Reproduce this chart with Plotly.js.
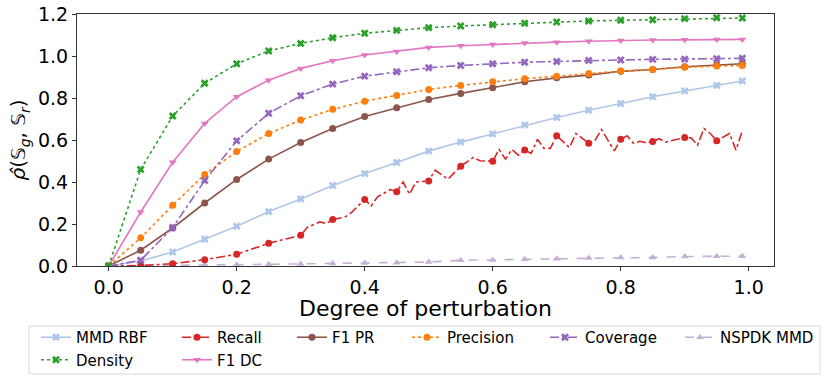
<!DOCTYPE html>
<html>
<head>
<meta charset="utf-8">
<script src="https://cdn.plot.ly/plotly-3.0.1.min.js"></script>
<style>
  html, body { margin: 0; padding: 0; background: #fff; }
  #chart { width: 830px; height: 381px; }
</style>
</head>
<body>
<div id="chart"></div>
<script>
// x positions of the markers (every 0.05) plus the last sample
const xMarks = [0, 0.05, 0.1, 0.15, 0.2, 0.25, 0.3, 0.35, 0.4, 0.45, 0.5,
                0.55, 0.6, 0.65, 0.7, 0.75, 0.8, 0.85, 0.9, 0.95, 0.99];

const mmdRbf   = [0, 0.024, 0.067, 0.127, 0.189, 0.259, 0.319, 0.383, 0.440, 0.493, 0.547,
                  0.590, 0.629, 0.671, 0.707, 0.742, 0.774, 0.806, 0.833, 0.860, 0.881];
const density  = [0, 0.460, 0.714, 0.870, 0.963, 1.024, 1.060, 1.087, 1.108, 1.122, 1.135,
                  1.143, 1.149, 1.156, 1.162, 1.167, 1.170, 1.173, 1.178, 1.182, 1.181];
const f1dc     = [0, 0.257, 0.494, 0.679, 0.806, 0.885, 0.941, 0.977, 1.005, 1.022, 1.041,
                  1.049, 1.055, 1.062, 1.066, 1.070, 1.074, 1.076, 1.077, 1.079, 1.079];
const coverage = [0, 0.027, 0.183, 0.407, 0.596, 0.727, 0.811, 0.866, 0.904, 0.925, 0.944,
                  0.955, 0.963, 0.970, 0.974, 0.979, 0.981, 0.984, 0.985, 0.987, 0.989];
const precision= [0, 0.134, 0.289, 0.436, 0.545, 0.631, 0.695, 0.746, 0.785, 0.812, 0.841,
                  0.860, 0.877, 0.892, 0.904, 0.917, 0.928, 0.936, 0.946, 0.952, 0.955];
const f1pr     = [0, 0.075, 0.181, 0.300, 0.412, 0.509, 0.588, 0.655, 0.712, 0.753, 0.793,
                  0.822, 0.849, 0.877, 0.896, 0.909, 0.927, 0.936, 0.949, 0.958, 0.963];
const nspdk    = [0, 0.001, 0.002, 0.004, 0.006, 0.008, 0.010, 0.012, 0.014, 0.016, 0.019,
                  0.027, 0.029, 0.032, 0.035, 0.038, 0.040, 0.041, 0.045, 0.046, 0.047];

// recall is noisy, so keep the vertices of its jagged line
const recallX = [0, 0.05, 0.1, 0.15, 0.2, 0.25, 0.28, 0.3, 0.31, 0.33, 0.34, 0.35, 0.37, 0.38,
                 0.4, 0.41, 0.42, 0.44, 0.45, 0.46, 0.47, 0.48, 0.5, 0.51, 0.53, 0.55, 0.57,
                 0.58, 0.6, 0.61, 0.62, 0.63, 0.64, 0.65, 0.66, 0.67, 0.68, 0.69, 0.7, 0.72,
                 0.73, 0.75, 0.76, 0.77, 0.79, 0.8, 0.81, 0.82, 0.83, 0.84, 0.85, 0.86, 0.87,
                 0.89, 0.9, 0.91, 0.92, 0.93, 0.94, 0.95, 0.97, 0.98, 0.99];
const recallY = [0, 0.002, 0.011, 0.030, 0.056, 0.108, 0.131, 0.146, 0.183, 0.210, 0.202, 0.221,
                 0.234, 0.257, 0.317, 0.286, 0.329, 0.364, 0.353, 0.400, 0.342, 0.400, 0.405,
                 0.456, 0.413, 0.475, 0.517, 0.501, 0.499, 0.555, 0.509, 0.555, 0.528, 0.552,
                 0.536, 0.603, 0.560, 0.560, 0.620, 0.564, 0.631, 0.584, 0.599, 0.650, 0.548,
                 0.603, 0.620, 0.584, 0.594, 0.587, 0.593, 0.606, 0.590, 0.604, 0.612, 0.610,
                 0.575, 0.655, 0.631, 0.596, 0.631, 0.552, 0.644];

const FONT = 'DejaVu Sans, sans-serif';
const W = 830, H = 381;
// plot area in pixels (matches the reference frame)
const PL = 77, PR = 774, PT = 14, PB = 266;
const LEG_TOP = 321;   // top of the legend block, px

function serie(name, x, y, color, dash, symbol, legend, rank, markColor) {
    return {
        x: x, y: y, name: name,
        type: 'scatter', mode: 'lines+markers',
        line: {color: color, width: 1.6, dash: dash},
        marker: {color: markColor || color, size: 7, symbol: symbol, line: {width: 0}},
        legend: legend, legendrank: rank,
        hoverinfo: 'x+y+name'
    };
}

// markers only every 0.05 on the recall line
const recallColors = recallX.map(v => Math.round(v * 100) % 5 === 0 ? '#d62728' : 'rgba(0,0,0,0)');

const data = [
    serie('NSPDK MMD', xMarks, nspdk, '#c5b0d5', 'dash', 'triangle-up', 'legend6', 1),
    serie('MMD RBF', xMarks, mmdRbf, '#aec7e8', 'solid', 'x', 'legend', 1),
    serie('Recall', recallX, recallY, '#d62728', 'dashdot', 'circle', 'legend2', 1, recallColors),
    serie('F1 PR', xMarks, f1pr, '#8c564b', 'solid', 'circle', 'legend3', 1),
    serie('Precision', xMarks, precision, '#ff7f0e', 'dot', 'circle', 'legend4', 1),
    serie('Coverage', xMarks, coverage, '#9467bd', 'dashdot', 'x', 'legend5', 1),
    serie('F1 DC', xMarks, f1dc, '#e377c2', 'solid', 'triangle-down', 'legend2', 2),
    serie('Density', xMarks, density, '#2ca02c', 'dot', 'x', 'legend', 2)
];

// one small legend per column, like the matplotlib ncol layout
function legendBox(px) {
    return {
        xref: 'paper', yref: 'container',
        x: (px - PL) / (PR - PL), y: (H - LEG_TOP) / H,
        xanchor: 'left', yanchor: 'top',
        orientation: 'v', bgcolor: 'rgba(0,0,0,0)', borderwidth: 0,
        font: {family: FONT, size: 15, color: '#000'}, tracegroupgap: 0
    };
}

const layout = {
    width: W, height: H,
    margin: {l: PL, r: W - PR, t: PT, b: H - PB},
    paper_bgcolor: '#fff', plot_bgcolor: '#fff',
    font: {family: FONT, color: '#000'},
    showlegend: true,
    legend: legendBox(36),
    legend2: legendBox(177),
    legend3: legendBox(292),
    legend4: legendBox(407),
    legend5: legendBox(545),
    legend6: legendBox(680),
    xaxis: {
        range: [-0.0495, 1.0395], automargin: false,
        tickvals: [0, 0.2, 0.4, 0.6, 0.8, 1.0], tickformat: '.1f',
        ticks: 'outside', ticklen: 4, tickwidth: 1, tickcolor: '#333',
        showline: true, linecolor: '#333', linewidth: 1, mirror: true,
        showgrid: false, zeroline: false,
        tickfont: {family: FONT, size: 19},
        title: {text: 'Degree of perturbation', font: {family: FONT, size: 22}, standoff: 1}
    },
    yaxis: {
        range: [0, 1.2], automargin: false,
        tickvals: [0, 0.2, 0.4, 0.6, 0.8, 1.0, 1.2], tickformat: '.1f',
        ticks: 'outside', ticklen: 4, tickwidth: 1, tickcolor: '#333',
        showline: true, linecolor: '#333', linewidth: 1, mirror: true,
        showgrid: false, zeroline: false,
        tickfont: {family: FONT, size: 19},
        title: {text: '<i>ρ̂</i>(𝕊<sub><i>g</i></sub>, 𝕊<sub><i>r</i></sub>)',
                font: {family: FONT, size: 20}, standoff: 6}
    },
    shapes: [{
        type: 'rect', xref: 'paper', yref: 'paper',
        x0: (29 - PL) / (PR - PL), x1: (820 - PL) / (PR - PL),
        y0: (PB - 326) / (PB - PT), y1: (PB - 374) / (PB - PT),
        line: {color: '#d9d9d9', width: 1}, fillcolor: 'rgba(0,0,0,0)', layer: 'below'
    }]
};

Plotly.newPlot('chart', data, layout, {displayModeBar: false, responsive: false});
</script>
</body>
</html>
